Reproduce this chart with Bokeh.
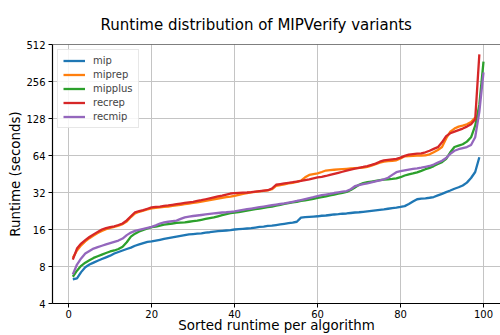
from bokeh.plotting import figure
from bokeh.models import Range1d, FixedTicker, Span, Legend, LegendItem, ColumnDataSource
from bokeh.embed import file_html
from bokeh.resources import INLINE

# ---- data ----
mip = [6.3, 6.4, 7.2, 7.9, 8.3, 8.6, 8.9, 9.2, 9.5, 9.8,
       10.2, 10.5, 10.8, 11.1, 11.4, 11.8, 12.1, 12.4, 12.7, 12.8,
       13.0, 13.2, 13.4, 13.6, 13.8, 14.0, 14.2, 14.4, 14.6, 14.7,
       14.8, 14.9, 15.1, 15.2, 15.4, 15.5, 15.6, 15.7, 15.8, 16.0,
       16.1, 16.2, 16.3, 16.4, 16.6, 16.8, 16.9, 17.1, 17.2, 17.4,
       17.6, 17.8, 18.0, 18.2, 18.5, 20.0, 20.2, 20.3, 20.4, 20.5,
       20.7, 20.8, 21.0, 21.2, 21.3, 21.5, 21.6, 21.8, 22.0, 22.1,
       22.3, 22.5, 22.7, 22.9, 23.1, 23.3, 23.6, 23.9, 24.1, 24.4,
       24.8, 25.8, 27.0, 28.2, 28.5, 28.7, 29.0, 29.4, 30.3, 31.2,
       32.2, 33.2, 34.3, 35.3, 36.5, 38.5, 42.0, 47.0, 62.0]

miprep = [9.4, 10.8, 11.9, 12.8, 13.6, 14.3, 15.0, 15.6, 16.1, 16.5,
          16.8, 17.2, 17.7, 18.6, 20.2, 21.6, 22.3, 22.8, 23.3, 23.8,
          24.0, 24.2, 24.4, 24.6, 24.9, 25.2, 25.4, 25.7, 26.0, 26.3,
          26.6, 27.0, 27.4, 27.8, 28.2, 28.6, 29.0, 29.3, 29.6, 30.0,
          30.6, 31.2, 31.7, 32.1, 32.4, 32.7, 33.0, 33.3, 34.0, 36.2,
          36.8, 37.3, 37.9, 38.4, 39.0, 40.0, 42.5, 44.5, 45.2, 45.8,
          47.0, 48.3, 48.7, 49.0, 49.3, 49.6, 49.9, 50.2, 50.5, 50.8,
          51.0, 51.8, 53.0, 54.5, 56.0, 57.0, 57.5, 58.0, 58.5, 60.5,
          63.0, 63.3, 63.6, 63.8, 64.0, 64.2, 65.5, 68.0, 71.0, 75.0,
          88.0, 100.0, 106.0, 110.0, 112.0, 115.0, 120.0, 130.0]

mipplus = [6.6, 7.4, 8.1, 8.6, 9.0, 9.4, 9.7, 10.0, 10.3, 10.6,
           10.8, 11.1, 11.6, 12.6, 14.0, 14.8, 15.4, 15.9, 16.3, 16.7,
           16.9, 17.2, 17.5, 17.7, 17.9, 18.1, 18.2, 18.3, 18.5, 18.7,
           18.9, 19.2, 19.5, 19.8, 20.1, 20.5, 20.9, 21.3, 21.7, 22.0,
           22.2, 22.5, 22.8, 23.1, 23.4, 23.7, 24.0, 24.3, 24.6, 25.0,
           25.4, 25.8, 26.2, 26.6, 26.9, 27.3, 27.6, 28.0, 28.4, 28.9,
           29.3, 29.8, 30.3, 30.8, 31.3, 31.8, 32.4, 33.5, 35.2, 37.0,
           38.2, 38.8, 39.3, 39.8, 40.3, 40.7, 41.0, 41.3, 41.7, 42.6,
           44.0, 45.0, 45.7, 46.6, 48.0, 49.5, 50.8, 52.5, 54.5, 56.5,
           60.0, 68.0, 75.0, 77.0, 79.0, 83.0, 90.0, 112.0, 165.0, 372.0]

recrep = [9.1, 11.2, 12.3, 13.1, 13.9, 14.6, 15.3, 16.0, 16.4, 16.7,
          17.0, 17.4, 17.9, 19.0, 20.5, 22.1, 22.6, 23.0, 23.6, 24.2,
          24.4, 24.6, 24.9, 25.1, 25.4, 25.7, 26.0, 26.3, 26.6, 26.9,
          27.3, 27.7, 28.2, 28.7, 29.2, 29.7, 30.2, 30.8, 31.4, 31.6,
          31.8, 31.9, 32.0, 32.2, 32.5, 32.8, 33.1, 33.4, 34.5, 37.0,
          37.5, 38.0, 38.4, 38.8, 39.3, 39.8, 40.4, 41.0, 41.7, 42.4,
          42.9, 43.6, 44.5, 45.4, 46.3, 47.2, 48.3, 49.2, 50.0, 50.8,
          51.6, 52.5, 53.6, 55.0, 57.0, 58.4, 59.0, 59.6, 60.2, 61.5,
          63.5, 65.0, 65.6, 66.2, 66.7, 68.0, 70.0, 72.5, 74.8, 82.0,
          92.0, 97.0, 100.0, 103.0, 106.0, 110.0, 115.0, 126.0, 425.0]

recmip = [6.9, 8.3, 9.3, 10.2, 10.7, 11.2, 11.5, 11.8, 12.1, 12.4,
          12.7, 13.0, 13.5, 14.4, 15.1, 15.6, 15.9, 16.2, 16.5, 16.8,
          17.3, 17.9, 18.3, 18.5, 18.7, 18.9, 19.5, 20.1, 20.4, 20.6,
          20.8, 21.0, 21.2, 21.4, 21.6, 21.8, 22.0, 22.1, 22.3, 22.5,
          22.8, 23.1, 23.4, 23.7, 24.0, 24.3, 24.6, 24.9, 25.2, 25.5,
          25.8, 26.1, 26.5, 26.9, 27.3, 27.8, 28.3, 28.8, 29.3, 29.9,
          30.4, 30.8, 31.2, 31.7, 32.1, 32.5, 32.9, 34.0, 36.0, 36.8,
          37.4, 38.0, 38.7, 39.4, 40.1, 41.0, 42.2, 44.5, 46.8, 47.8,
          48.5, 49.2, 49.8, 50.3, 51.0, 51.8, 52.6, 54.0, 56.0, 58.0,
          61.0, 66.0, 70.0, 72.0, 73.5, 75.0, 78.0, 90.0, 145.0, 303.0]

names = ["mip", "miprep", "mipplus", "recrep", "recmip"]
series = [mip, miprep, mipplus, recrep, recmip]
colors = ["#1f77b4", "#ff7f0e", "#2ca02c", "#d62728", "#9467bd"]
y_ticks = [4, 8, 16, 32, 64, 128, 256, 512]
x_ticks = [0, 20, 40, 60, 80, 100]

FONT = "DejaVu Sans"

p = figure(width=500, height=335, output_backend="svg", toolbar_location=None,
           y_axis_type="log", x_range=Range1d(-3.9, 104.1),
           y_range=Range1d(4, 512),
           min_border_left=52, min_border_right=0,
           min_border_top=44, min_border_bottom=32)

p.title.text = "Runtime distribution of MIPVerify variants"
p.title.text_font = FONT
p.title.text_font_size = "15px"
p.title.text_font_style = "normal"
p.title.align = "left"
p.title.offset = 48
p.title.standoff = 22
p.title.text_color = "#000000"

p.outline_line_color = None
p.add_layout(Span(location=512, dimension="width", line_color="black", line_width=1.2))

items = []
for name, vals, col in zip(names, series, colors):
    xs = list(range(1, len(vals) + 1))
    src = ColumnDataSource(dict(x=xs, y=vals))
    r = p.line("x", "y", source=src, line_color=col, line_width=2.3)
    items.append(LegendItem(label=name, renderers=[r]))

legend = Legend(items=items, location="top_left")
legend.label_text_font = FONT
legend.label_text_font_size = "10px"
legend.label_height = 11
legend.glyph_height = 11
legend.glyph_width = 22
legend.spacing = 3
legend.padding = 5
legend.margin = 5
legend.label_standoff = 8
legend.border_line_color = "#d0d0d0"
legend.border_line_width = 1
legend.background_fill_alpha = 0.85
p.add_layout(legend)

p.xaxis.ticker = FixedTicker(ticks=x_ticks)
p.yaxis.ticker = FixedTicker(ticks=y_ticks)
p.yaxis.major_label_overrides = {t: str(t) for t in y_ticks}

p.xaxis.axis_label = "Sorted runtime per algorithm"
p.yaxis.axis_label = "Runtime (seconds)"
for ax in (p.xaxis, p.yaxis):
    ax.axis_label_text_font = FONT
    ax.axis_label_text_font_size = "13.4px"
    ax.axis_label_text_font_style = "normal"
    ax.axis_label_text_color = "#000000"
    ax.major_label_text_font = FONT
    ax.major_label_text_font_size = "10px"
    ax.major_label_text_color = "#000000"
    ax.axis_line_color = "black"
    ax.axis_line_width = 1.2
    ax.major_tick_line_color = "black"
    ax.major_tick_out = 4
    ax.major_tick_in = 0
    ax.minor_tick_line_color = None
    ax.major_label_standoff = 3
    ax.axis_label_standoff = 0

p.xaxis.major_label_standoff = 2
p.xaxis.axis_label_standoff = -3

p.grid.grid_line_color = "#c4c4c4"
p.grid.grid_line_width = 1
p.ygrid.minor_grid_line_color = None

open("out.html", "w").write(file_html(p, INLINE))
